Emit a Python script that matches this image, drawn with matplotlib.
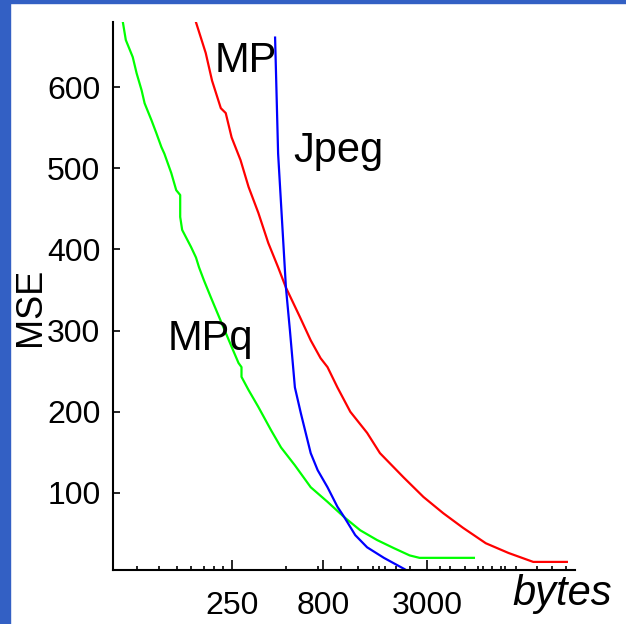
import numpy as np
import matplotlib
matplotlib.use('Agg')
import matplotlib.pyplot as plt
from matplotlib.patches import Rectangle

plt.rcParams['font.family'] = ['Liberation Sans', 'DejaVu Sans']

# MP curve (red)
mp_bytes = [159, 180, 195, 218, 232, 250, 280, 310, 351, 398, 451, 498, 594, 682, 773, 844,
            957, 1127, 1395, 1642, 2219, 2852, 3666, 4711, 6288, 8391, 11483, 17592]
mp_mse = [680, 642, 608, 574, 568, 538, 510, 477, 445, 408, 378, 353, 317, 288, 266, 255,
          230, 200, 174, 149, 119, 95, 75, 57, 38, 26, 15, 15]

# MPq curve (green)
mpq_bytes = [62.9, 65.3, 71.3, 74.9, 79.8, 82.9, 90.5, 96.3, 102.6, 106.5, 116.3, 123.8, 130.2,
             130.2, 133.5, 149.4, 159.1, 165.3, 175.9, 192.1, 220.5, 250, 273, 283.4, 283.4,
             309.5, 350.8, 413, 468, 558, 682, 844, 1045, 1278, 1581, 1957, 2393, 2712, 3666, 5408]
mpq_mse = [680, 658, 637, 617, 596, 580, 559, 543, 526, 518, 494, 473, 467,
           440, 424, 403, 390, 378, 362, 341, 309, 280, 260, 255, 243,
           227, 206, 177, 156, 134, 107, 89, 70, 54, 42, 32, 23, 20, 20, 20]

# Jpeg curve (blue)
jpeg_bytes = [434, 451, 498, 524, 558, 602, 682, 745, 844, 957, 1045, 1200, 1395, 1726, 2247, 2393]
jpeg_mse = [661, 518, 353, 300, 230, 198, 149, 128, 107, 83, 70, 48, 33, 20, 6, 2]

xtick_vals = [250, 800, 3000]
xtick_labels = ['250', '800', '3000']
xminor_vals = [75, 100, 125, 150, 175, 200, 225, 500, 750, 1000, 1250, 1500, 1625, 1750, 2000,
               2400, 3500, 4000, 4800, 5700, 6100, 6800, 7600, 8000, 9200, 12000, 14500, 17500]
ytick_vals = [100, 200, 300, 400, 500, 600]

fig = plt.figure(figsize=(6.26, 6.24), dpi=100)
ax = fig.add_axes([0.1805, 0.0865, 0.738, 0.878])

ax.plot(mp_bytes, mp_mse, color='#ff0000', lw=1.6)
ax.plot(mpq_bytes, mpq_mse, color='#00ff00', lw=1.6)
ax.plot(jpeg_bytes, jpeg_mse, color='#0000ff', lw=1.6)

ax.set_xscale('log')
ax.set_xlim(55.5, 19500)
ax.set_ylim(5, 680)

ax.set_xticks(xtick_vals)
ax.set_xticklabels(xtick_labels)
ax.set_xticks(xminor_vals, minor=True)
ax.xaxis.set_minor_formatter(matplotlib.ticker.NullFormatter())
ax.set_yticks(ytick_vals)
ax.tick_params(axis='both', which='major', direction='in', length=5, width=1.2,
               labelsize=23, colors='black')
ax.tick_params(axis='x', which='major', pad=15, length=7)
ax.tick_params(axis='y', which='major', pad=9)
ax.tick_params(axis='x', which='minor', direction='in', length=3, width=1.2)
ax.tick_params(axis='y', which='minor', left=False)

for s in ['top', 'right']:
    ax.spines[s].set_visible(False)
for s in ['left', 'bottom']:
    ax.spines[s].set_linewidth(1.5)

fig.text(0.343, 0.885, 'MP', fontsize=30, va='baseline')
fig.text(0.468, 0.740, 'Jpeg', fontsize=30, va='baseline')
fig.text(0.267, 0.439, 'MPq', fontsize=30, va='baseline')
fig.text(0.978, 0.030, 'bytes', fontsize=30, style='italic', ha='right', va='baseline')
fig.text(0.077, 0.508, 'MSE', fontsize=26, rotation=90, ha='right', va='center')

# blue frame at left and top
fig.patches.append(Rectangle((0, 0), 10 / 626, 1, transform=fig.transFigure,
                             color='#3360c4', zorder=0))
fig.patches.append(Rectangle((0, 1 - 3 / 624), 1, 3 / 624, transform=fig.transFigure,
                             color='#3360c4', zorder=0))

fig.savefig('out.png', dpi=100)
